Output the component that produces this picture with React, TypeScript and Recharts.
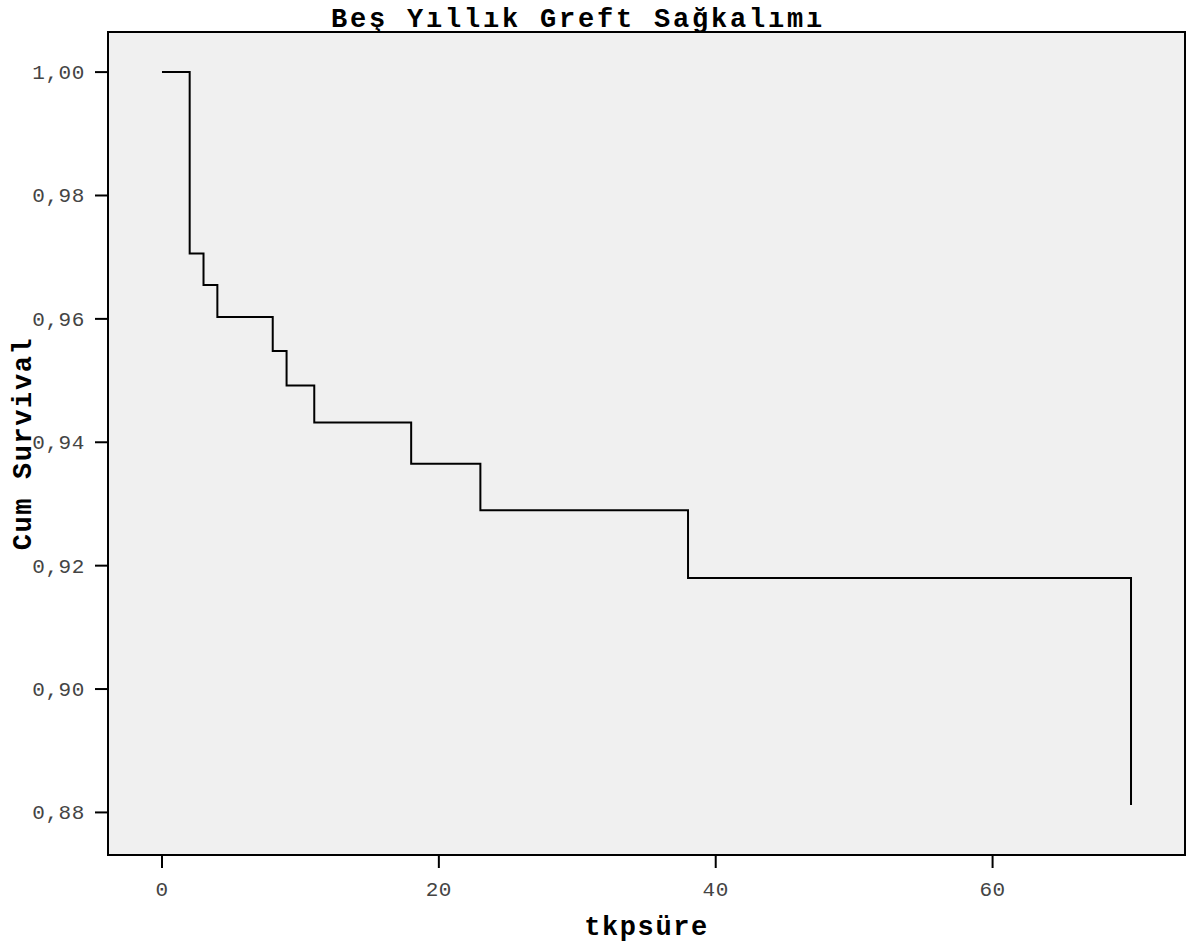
import { LineChart, Line, XAxis, YAxis, ReferenceArea, Label } from 'recharts';

// Kaplan-Meier steps (months, cumulative survival)
const months = [0, 2, 3, 4, 8, 9, 11, 18, 23, 38, 70];
const survival = [1.0, 0.9706, 0.9655, 0.9603, 0.9548, 0.9492, 0.9432, 0.9365, 0.929, 0.918, 0.8812];

const xTicks = [0, 20, 40, 60];
const yTicks = [0.88, 0.9, 0.92, 0.94, 0.96, 0.98, 1.0];

const X_DOMAIN: [number, number] = [-3.9, 73.9];
const Y_DOMAIN: [number, number] = [0.8731, 1.0065];

const data = months.map((m, i) => ({ time: m, value: survival[i] }));

const MONO = '"Liberation Mono", "Courier New", monospace';

const fmt = (v: number) => v.toFixed(2).replace('.', ',');

const YTick = (props: any) => {
  const { x, y, payload } = props;
  return (
    <text x={x - 8} y={y + 7} textAnchor="end" fontFamily={MONO} fontSize={21} letterSpacing={0.6} fill="#444">
      {fmt(payload.value)}
    </text>
  );
};

const XTick = (props: any) => {
  const { x, y, payload } = props;
  return (
    <text x={x} y={y + 26} textAnchor="middle" fontFamily={MONO} fontSize={21} letterSpacing={0.6} fill="#444">
      {payload.value}
    </text>
  );
};

export default function App() {
  return (
    <div style={{ position: 'absolute', left: 0, top: 0, width: 1189, height: 951, background: '#fff' }}>
      <svg width={1189} height={40} style={{ position: 'absolute', left: 0, top: 0 }}>
        <text x={578} y={27} textAnchor="middle" fontFamily={MONO} fontWeight="bold" fontSize={27} letterSpacing={2.8} fill="#000">
          Beş Yıllık Greft Sağkalımı
        </text>
      </svg>
      <LineChart width={1189} height={951} data={data} margin={{ top: 32, right: 4, bottom: 0, left: 0 }}>
        <XAxis
          dataKey="time"
          type="number"
          domain={X_DOMAIN}
          ticks={xTicks}
          allowDataOverflow
          height={96}
          tickSize={13}
          axisLine={false}
          tickLine={{ stroke: '#000', strokeWidth: 2 }}
          tick={<XTick />}
        >
          <Label
            content={(p: any) => {
              const vb = p.viewBox;
              return (
                <text x={vb.x + vb.width / 2} y={935} textAnchor="middle" fontFamily={MONO} fontWeight="bold" fontSize={27} letterSpacing={1.6} fill="#000">
                  tkpsüre
                </text>
              );
            }}
          />
        </XAxis>
        <YAxis
          type="number"
          domain={Y_DOMAIN}
          ticks={yTicks}
          allowDataOverflow
          width={108}
          tickSize={13}
          axisLine={false}
          tickLine={{ stroke: '#000', strokeWidth: 2 }}
          tick={<YTick />}
        >
          <Label
            content={(p: any) => {
              const vb = p.viewBox;
              const cx = 31;
              const cy = vb.y + vb.height / 2;
              return (
                <text x={cx} y={cy} transform={`rotate(-90 ${cx} ${cy})`} textAnchor="middle" fontFamily={MONO} fontWeight="bold" fontSize={27} letterSpacing={1.6} fill="#000">
                  Cum Survival
                </text>
              );
            }}
          />
        </YAxis>
        <ReferenceArea
          x1={X_DOMAIN[0]}
          x2={X_DOMAIN[1]}
          y1={Y_DOMAIN[0]}
          y2={Y_DOMAIN[1]}
          fill="#f0f0f0"
          fillOpacity={1}
          stroke="#000"
          strokeWidth={2}
        />
        <Line
          type="stepAfter"
          dataKey="value"
          stroke="#000"
          strokeWidth={2}
          dot={false}
          isAnimationActive={false}
        />
      </LineChart>
    </div>
  );
}
